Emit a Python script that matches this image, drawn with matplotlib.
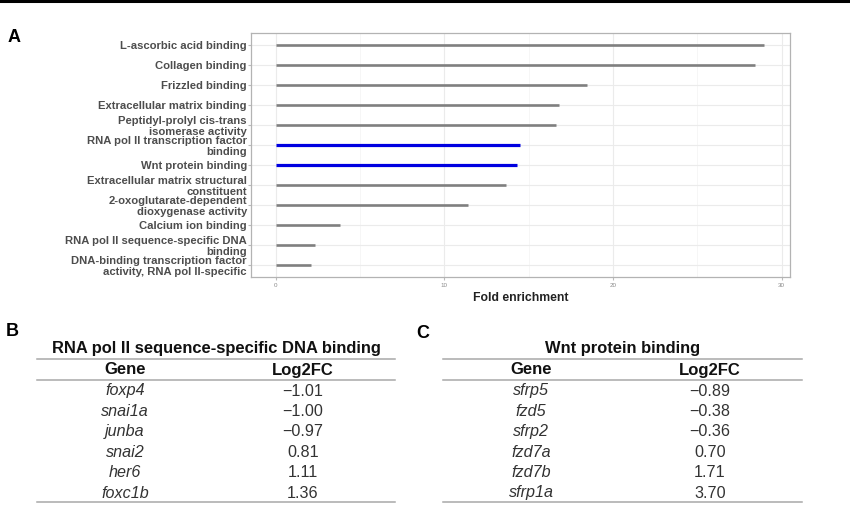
#!/usr/bin/env python3
"""GO enrichment lollipop-style bars (panel A) with two gene tables (panels B, C)."""

import matplotlib

matplotlib.use("Agg")
import matplotlib.pyplot as plt
from matplotlib.lines import Line2D

plt.rcParams["font.family"] = ["Liberation Sans", "DejaVu Sans"]

# Panel A: GO terms (top to bottom) and fold enrichment
terms = [
    "L-ascorbic acid binding",
    "Collagen binding",
    "Frizzled binding",
    "Extracellular matrix binding",
    "Peptidyl-prolyl cis-trans\nisomerase activity",
    "RNA pol II transcription factor\nbinding",
    "Wnt protein binding",
    "Extracellular matrix structural\nconstituent",
    "2-oxoglutarate-dependent\ndioxygenase activity",
    "Calcium ion binding",
    "RNA pol II sequence-specific DNA\nbinding",
    "DNA-binding transcription factor\nactivity, RNA pol II-specific",
]
fold_enrichment = [28.95, 28.4, 18.45, 16.8, 16.6, 14.5, 14.3, 13.65, 11.4, 3.8, 2.3, 2.1]
highlighted = ["RNA pol II transcription factor\nbinding", "Wnt protein binding"]
x_ticks = [0, 10, 20, 30]

# Panel B table
table_b_title = "RNA pol II sequence-specific DNA binding"
table_b_genes = ["foxp4", "snai1a", "junba", "snai2", "her6", "foxc1b"]
table_b_log2fc = [-1.01, -1.00, -0.97, 0.81, 1.11, 1.36]

# Panel C table
table_c_title = "Wnt protein binding"
table_c_genes = ["sfrp5", "fzd5", "sfrp2", "fzd7a", "fzd7b", "sfrp1a"]
table_c_log2fc = [-0.89, -0.38, -0.36, 0.70, 1.71, 3.70]

W, H = 850, 519
fig = plt.figure(figsize=(W / 100, H / 100), dpi=100, facecolor="white")

# ---- panel A ----
ax_l, ax_t, ax_r, ax_b = 251, 33, 790, 277
ax = fig.add_axes([ax_l / W, 1 - ax_b / H, (ax_r - ax_l) / W, (ax_b - ax_t) / H])
n = len(terms)
ypos = list(range(n, 0, -1))
for y, term, val in zip(ypos, terms, fold_enrichment):
    hi = term in highlighted
    ax.plot([0, val], [y, y], color="#0000e0" if hi else "#7f7f7f",
            lw=2.3 if hi else 1.9, solid_capstyle="butt", zorder=3)

xmax = max(fold_enrichment)
pad = 0.05 * xmax
ax.set_xlim(-pad - 0.02, 30.5)
ax.set_ylim(0.4, n + 0.6)
ax.set_xticks(x_ticks)
ax.set_xticks([5, 15, 25], minor=True)
ax.set_yticks(ypos)
ax.set_yticklabels(terms, fontsize=8.1, fontweight="bold", color="#4d4d4d",
                   linespacing=1.08)
ax.tick_params(axis="x", labelsize=4.5, labelcolor="#8a8a8a", length=2,
               color="#bbbbbb", pad=2)
ax.tick_params(axis="x", which="minor", length=0)
ax.tick_params(axis="y", length=2, color="#bbbbbb", pad=1)
ax.grid(True, which="major", color="#ebebeb", lw=0.8, zorder=0)
ax.grid(True, which="minor", axis="x", color="#f3f3f3", lw=0.5, zorder=0)
ax.set_axisbelow(True)
for sp in ax.spines.values():
    sp.set_color("#b3b3b3")
    sp.set_linewidth(0.9)
ax.set_xlabel("Fold enrichment", fontsize=8.8, fontweight="bold", color="#222222",
              labelpad=3)

# ---- overlay for labels and tables ----
ov = fig.add_axes([0, 0, 1, 1])
ov.set_xlim(0, W)
ov.set_ylim(H, 0)
ov.axis("off")

ov.add_line(Line2D([0, W], [1, 1], color="black", lw=2.2))

ov.text(8, 37, "A", fontsize=13, fontweight="bold", ha="left", va="center")
ov.text(6, 331, "B", fontsize=13, fontweight="bold", ha="left", va="center")
ov.text(416, 334, "C", fontsize=13, fontweight="bold", ha="left", va="center")

row_y0, row_dy = 391, 20.4


def fmt(v):
    return f"{v:.2f}".replace("-", "\u2212")


def draw_table(x0, x1, gene_x, val_x, title, genes, vals):
    ov.text((x0 + x1) / 2, 349, title, fontsize=11.9, fontweight="bold",
            ha="center", va="center", color="#111111")
    for yy in (359, 380, 502):
        ov.add_line(Line2D([x0, x1], [yy, yy], color="#a8a8a8", lw=1.1))
    ov.text(gene_x, 370, "Gene", fontsize=12, fontweight="bold", ha="center",
            va="center", color="#111111")
    ov.text(val_x, 370, "Log2FC", fontsize=12, fontweight="bold", ha="center",
            va="center", color="#111111")
    for i, (g, v) in enumerate(zip(genes, vals)):
        yy = row_y0 + i * row_dy
        ov.text(gene_x, yy, g, fontsize=11.6, style="italic", ha="center",
                va="center", color="#333333")
        ov.text(val_x, yy, fmt(v), fontsize=11.6, ha="center", va="center",
                color="#333333")


draw_table(37, 395, 125, 303, table_b_title, table_b_genes, table_b_log2fc)
draw_table(443, 802, 531, 710, table_c_title, table_c_genes, table_c_log2fc)

fig.savefig("out.png", dpi=100, facecolor="white")
